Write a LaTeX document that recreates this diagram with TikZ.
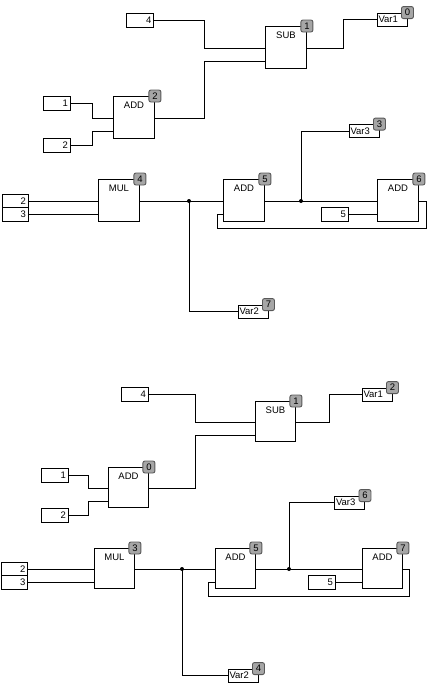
\documentclass[tikz,border=0pt]{standalone}
\usepackage{fontspec}
\setmainfont{Liberation Sans}
\begin{document}
\begin{tikzpicture}[x=1pt,y=-1pt, line width=0.9pt,
  font=\fontsize{9.5}{10}\selectfont,
  blkA/.style={draw, minimum width=41pt, minimum height=42pt, inner sep=0pt, anchor=north west},
  blkB/.style={draw, minimum width=40pt, minimum height=40pt, inner sep=0pt, anchor=north west},
  optxt/.style={anchor=base, inner sep=0pt},
  badge/.style={draw=black!65, fill=black!35, rounded corners=2pt, minimum width=12pt, minimum height=12pt, inner sep=0pt},
  konst/.style={draw, minimum height=14pt, text width=23pt, align=right, inner xsep=2pt, inner ysep=0pt},
  konstm/.style={konst, text width=22pt, minimum height=13.5pt},
  kvar/.style={draw, minimum height=13pt, text width=27pt, align=left, inner xsep=1.5pt, inner ysep=0pt},
  jdot/.style={circle, fill, inner sep=0pt, minimum size=4pt}]
\useasboundingbox[fill=white] (0,0) rectangle (431,688);

% ================= TOP =================
\node[konst] (k4a) at (140,20) {4};
\node[konst] (k1a) at (56.5,103) {1};
\node[konst] (k2a) at (56.5,145) {2};
\node[konstm] (k2ma) at (15,201) {2};
\node[konstm] (k3ma) at (15,214.5) {3};
\node[konst] (k5a) at (334.5,214.5) {5};

\node[blkA] (sub1a) at (265,26) {};
\node[blkA] (add2a) at (113,96) {};
\node[blkA] (mul4a) at (98,179) {};
\node[blkA] (add5a) at (223,179) {};
\node[blkA] (add6a) at (377,179) {};

\node[optxt] (sub1at) at ([yshift=-12pt]sub1a.north) {SUB};
\node[optxt] (add2at) at ([yshift=-12pt]add2a.north) {ADD};
\node[optxt] (mul4at) at ([yshift=-12pt]mul4a.north) {MUL};
\node[optxt] (add5at) at ([yshift=-12pt]add5a.north) {ADD};
\node[optxt] (add6at) at ([yshift=-12pt]add6a.north) {ADD};

\node[kvar] (var1a) at (392,19.5) {Var1};
\node[kvar] (var3a) at (364,131) {Var3};
\node[kvar] (var2a) at (253,311.5) {Var2};

\draw (k4a.east) -- ++(50,0) |- ([yshift=-22pt]sub1a.north west);
\draw ([yshift=-22pt]add2a.north east) -- ++(49.5,0) |- ([yshift=-35.5pt]sub1a.north west);
\draw ([yshift=-22pt]sub1a.north east) -- ++(37,0) |- (var1a.west);
\draw (k1a.east) -- ++(22,0) |- ([yshift=-22pt]add2a.north west);
\draw (k2a.east) -- ++(22,0) |- ([yshift=-35.5pt]add2a.north west);
\draw (k2ma.east) -- (k2ma.east -| mul4a.west);
\draw (k3ma.east) -- (k3ma.east -| mul4a.west);
\draw ([yshift=-22pt]mul4a.north east) -- ([yshift=-22pt]add5a.north west);
\coordinate (j1a) at (189,201);
\draw (j1a) |- (var2a.west);
\draw ([yshift=-22pt]add5a.north east) -- ([yshift=-22pt]add6a.north west);
\coordinate (j2a) at (301,201);
\draw (j2a) |- (var3a.west);
\draw (k5a.east) -- (k5a.east -| add6a.west);
\coordinate (fbra) at (426,228);
\coordinate (fbla) at (217,228);
\draw ([yshift=-22pt]add6a.north east) -| (fbra) -- (fbla) |- ([yshift=-35.5pt]add5a.north west);
\node[jdot] (j1ad) at (j1a) {};
\node[jdot] (j2ad) at (j2a) {};

\node[badge] (sub1ab) at (sub1a.north east) {1};
\node[badge] (add2ab) at (add2a.north east) {2};
\node[badge] (mul4ab) at (mul4a.north east) {4};
\node[badge] (add5ab) at (add5a.north east) {5};
\node[badge] (add6ab) at (add6a.north east) {6};
\node[badge] (var1ab) at (var1a.north east) {0};
\node[badge] (var3ab) at (var3a.north east) {3};
\node[badge] (var2ab) at (var2a.north east) {7};

% ================= BOTTOM =================
\node[konst] (k4b) at (134.5,394) {4};
\node[konst] (k1b) at (54.5,475) {1};
\node[konst] (k2b) at (54.5,515) {2};
\node[konstm] (k2mb) at (14.5,569) {2};
\node[konstm] (k3mb) at (14.5,582.5) {3};
\node[konst] (k5b) at (321.5,582.5) {5};

\node[blkB] (sub1b) at (255,401) {};
\node[blkB] (add0b) at (108,467) {};
\node[blkB] (mul3b) at (94,548) {};
\node[blkB] (add5b) at (215,548) {};
\node[blkB] (add7b) at (362,548) {};

\node[optxt] (sub1bt) at ([yshift=-12.5pt]sub1b.north) {SUB};
\node[optxt] (add0bt) at ([yshift=-12.5pt]add0b.north) {ADD};
\node[optxt] (mul3bt) at ([yshift=-12.5pt]mul3b.north) {MUL};
\node[optxt] (add5bt) at ([yshift=-12.5pt]add5b.north) {ADD};
\node[optxt] (add7bt) at ([yshift=-12.5pt]add7b.north) {ADD};

\node[kvar] (var1b) at (377,394.5) {Var1};
\node[kvar] (var3b) at (349.5,502.5) {Var3};
\node[kvar] (var2b) at (243,675.5) {Var2};

\draw (k4b.east) -- ++(47,0) |- ([yshift=-21pt]sub1b.north west);
\draw ([yshift=-21pt]add0b.north east) -- ++(47,0) |- ([yshift=-34.5pt]sub1b.north west);
\draw ([yshift=-21pt]sub1b.north east) -- ++(34,0) |- (var1b.west);
\draw (k1b.east) -- ++(20,0) |- ([yshift=-21pt]add0b.north west);
\draw (k2b.east) -- ++(20,0) |- ([yshift=-34.5pt]add0b.north west);
\draw (k2mb.east) -- (k2mb.east -| mul3b.west);
\draw (k3mb.east) -- (k3mb.east -| mul3b.west);
\draw ([yshift=-21pt]mul3b.north east) -- ([yshift=-21pt]add5b.north west);
\coordinate (j1b) at (182,569);
\draw (j1b) |- (var2b.west);
\draw ([yshift=-21pt]add5b.north east) -- ([yshift=-21pt]add7b.north west);
\coordinate (j2b) at (289,569);
\draw (j2b) |- (var3b.west);
\draw (k5b.east) -- (k5b.east -| add7b.west);
\coordinate (fbrb) at (409,596);
\coordinate (fblb) at (208,596);
\draw ([yshift=-21pt]add7b.north east) -| (fbrb) -- (fblb) |- ([yshift=-34.5pt]add5b.north west);
\node[jdot] (j1bd) at (j1b) {};
\node[jdot] (j2bd) at (j2b) {};

\node[badge] (sub1bb) at (sub1b.north east) {1};
\node[badge] (add0bb) at (add0b.north east) {0};
\node[badge] (mul3bb) at (mul3b.north east) {3};
\node[badge] (add5bb) at (add5b.north east) {5};
\node[badge] (add7bb) at (add7b.north east) {7};
\node[badge] (var1bb) at (var1b.north east) {2};
\node[badge] (var3bb) at (var3b.north east) {6};
\node[badge] (var2bb) at (var2b.north east) {4};
\end{tikzpicture}
\end{document}
